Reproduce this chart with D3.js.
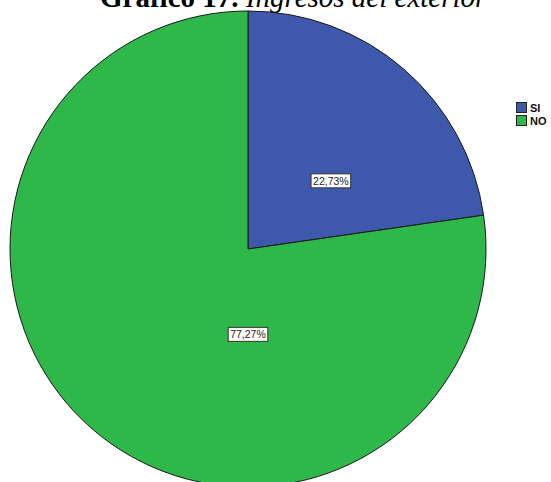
<!DOCTYPE html>
<html>
<head>
<meta charset="utf-8">
<script src="https://cdn.jsdelivr.net/npm/d3@7"></script>
<style>
  html, body { margin: 0; padding: 0; background: #fff; }
  svg { display: block; }
</style>
</head>
<body>
<svg id="chart" width="551" height="482"></svg>
<script>
// Categories and their shares (percent)
const categories = ["SI", "NO"];
const values = [22.73, 77.27];
const colors = ["#3E58AC", "#2EB84A"];
const valueLabels = ["22,73%", "77,27%"];

const svg = d3.select("#chart");
const W = 551, H = 482;
const cx = 248, cy = 249, R = 238;

// Title (partially above the top edge)
const title = svg.append("text")
  .attr("x", 100).attr("y", 7)
  .attr("font-family", "'Liberation Serif', 'Times New Roman', serif")
  .attr("font-size", 29)
  .attr("fill", "#000");
title.append("tspan").attr("font-weight", "bold").text("Gráfico 17. ");
title.append("tspan").attr("font-style", "italic").text("Ingresos del exterior");

// Pie, clockwise from 12 o'clock
const pie = d3.pie().sort(null).value(d => d)(values);
const arc = d3.arc().innerRadius(0).outerRadius(R);

const g = svg.append("g").attr("transform", `translate(${cx},${cy})`);
g.selectAll("path.slice")
  .data(pie)
  .join("path")
  .attr("class", "slice")
  .attr("d", arc)
  .attr("fill", (d, i) => colors[i])
  .attr("stroke", "#1a1a1a")
  .attr("stroke-width", 1);

// Value labels in boxed callouts
const labelPos = [
  { r: 0.45, a: 50.7 },
  { r: 0.36, a: 180 }
];
pie.forEach((d, i) => {
  const p = labelPos[i];
  const ang = p.a * Math.PI / 180;
  const x = Math.sin(ang) * R * p.r;
  const y = -Math.cos(ang) * R * p.r;
  const lg = g.append("g").attr("transform", `translate(${x},${y})`);
  const t = lg.append("text")
    .attr("text-anchor", "middle")
    .attr("dy", "0.35em")
    .attr("font-family", "'Liberation Sans', Arial, sans-serif")
    .attr("font-size", 10.5)
    .attr("fill", "#222")
    .text(valueLabels[i]);
  const bb = t.node().getBBox();
  lg.insert("rect", "text")
    .attr("x", bb.x - 2).attr("y", bb.y - 1)
    .attr("width", bb.width + 4).attr("height", bb.height + 2)
    .attr("fill", "#fff")
    .attr("stroke", "#333")
    .attr("stroke-width", 1);
});

// Legend
const legend = svg.append("g").attr("transform", "translate(516,102)");
categories.forEach((c, i) => {
  const row = legend.append("g").attr("transform", `translate(0,${i * 13})`);
  row.append("rect")
    .attr("x", 0.5).attr("y", 0.5)
    .attr("width", 10).attr("height", 10)
    .attr("fill", colors[i])
    .attr("stroke", "#222")
    .attr("stroke-width", 1);
  row.append("text")
    .attr("x", 14).attr("y", 9.5)
    .attr("font-family", "'Liberation Sans', Arial, sans-serif")
    .attr("font-size", 11)
    .attr("font-weight", "bold")
    .attr("fill", "#111")
    .text(c);
});
</script>
</body>
</html>
